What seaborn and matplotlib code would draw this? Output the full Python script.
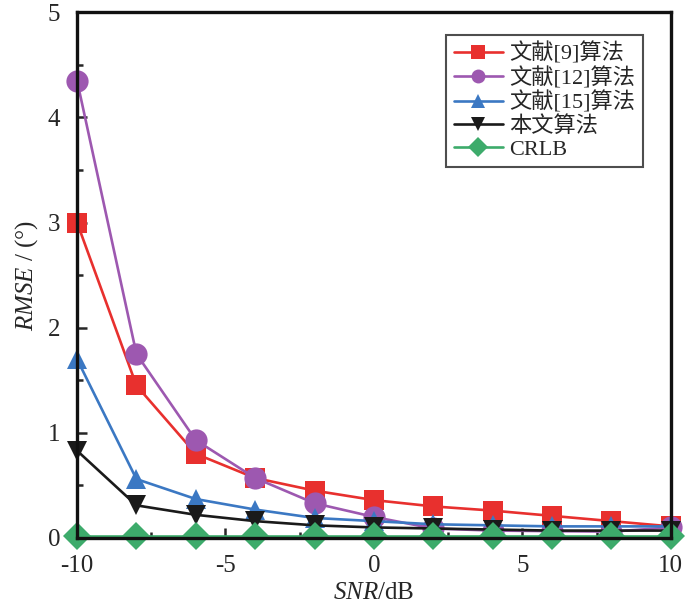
import pandas as pd
import numpy as np
import matplotlib
matplotlib.use('Agg')
import matplotlib.pyplot as plt
import seaborn as sns
from matplotlib.ticker import MultipleLocator

# --- data ---
snr = [-10, -8, -6, -4, -2, 0, 2, 4, 6, 8, 10]
rmse_ref9 = [3.0, 1.45, 0.80, 0.57, 0.45, 0.36, 0.30, 0.26, 0.21, 0.16, 0.11]
rmse_ref12 = [4.35, 1.75, 0.93, 0.57, 0.33, 0.20, 0.09, 0.07, 0.065, 0.06, 0.10]
rmse_ref15 = [1.70, 0.56, 0.37, 0.27, 0.19, 0.16, 0.13, 0.12, 0.11, 0.11, 0.11]
rmse_ours = [0.83, 0.31, 0.22, 0.16, 0.12, 0.10, 0.09, 0.08, 0.07, 0.07, 0.07]
rmse_crlb = [0.02, 0.02, 0.02, 0.02, 0.02, 0.02, 0.02, 0.02, 0.02, 0.02, 0.02]

labels = ['文献[9]算法', '文献[12]算法', '文献[15]算法', '本文算法', 'CRLB']
series = [rmse_ref9, rmse_ref12, rmse_ref15, rmse_ours, rmse_crlb]
colors = ['#e8302e', '#9d58b0', '#3b78c3', '#1a1a1a', '#3dab6b']
markers = ['s', 'o', '^', 'v', 'D']
msizes = [14, 16, 15, 15, 14]

sns.set_style('ticks')
plt.rcParams['font.family'] = ['Liberation Serif', 'Noto Sans CJK SC']
plt.rcParams['mathtext.fontset'] = 'custom'
plt.rcParams['mathtext.it'] = 'Liberation Serif:italic'
plt.rcParams['mathtext.rm'] = 'Liberation Serif'
plt.rcParams['axes.unicode_minus'] = False

fig = plt.figure(figsize=(6.88, 6.12), dpi=100)
ax = fig.add_axes([0.112, 0.121, 0.863, 0.859])

for vals, lab, col, mk, ms in zip(series, labels, colors, markers, msizes):
    sns.lineplot(x=snr, y=vals, ax=ax, color=col, marker=mk, markersize=ms,
                 markeredgewidth=0, linewidth=1.9, label=lab, clip_on=False)

ax.set_xlim(-10, 10)
ax.set_ylim(0, 5)
ax.xaxis.set_major_locator(MultipleLocator(5))
ax.xaxis.set_minor_locator(MultipleLocator(2.5))
ax.yaxis.set_major_locator(MultipleLocator(1))
ax.yaxis.set_minor_locator(MultipleLocator(0.5))
ax.tick_params(which='both', direction='in', width=1.8, labelsize=18)
ax.tick_params(which='major', length=7)
ax.tick_params(which='minor', length=4)
ax.tick_params(axis='x', pad=12)
ax.tick_params(axis='y', pad=12)
for sp in ax.spines.values():
    sp.set_linewidth(2.4)
    sp.set_color('#111111')

ax.set_xlabel(r'$SNR$/dB', fontsize=18, labelpad=4)
ax.set_ylabel(r'$RMSE$ / (°)', fontsize=18, labelpad=6)

leg = ax.legend(loc='upper right', bbox_to_anchor=(0.965, 0.97), fontsize=16,
                frameon=True, fancybox=False, edgecolor='#222222',
                handlelength=2.2, handletextpad=0.3, borderpad=0.35,
                labelspacing=0.1, borderaxespad=0.3)
leg.get_frame().set_linewidth(1.5)
for h in leg.legend_handles:
    h.set_markersize(10)

fig.savefig('out.png', dpi=100)
